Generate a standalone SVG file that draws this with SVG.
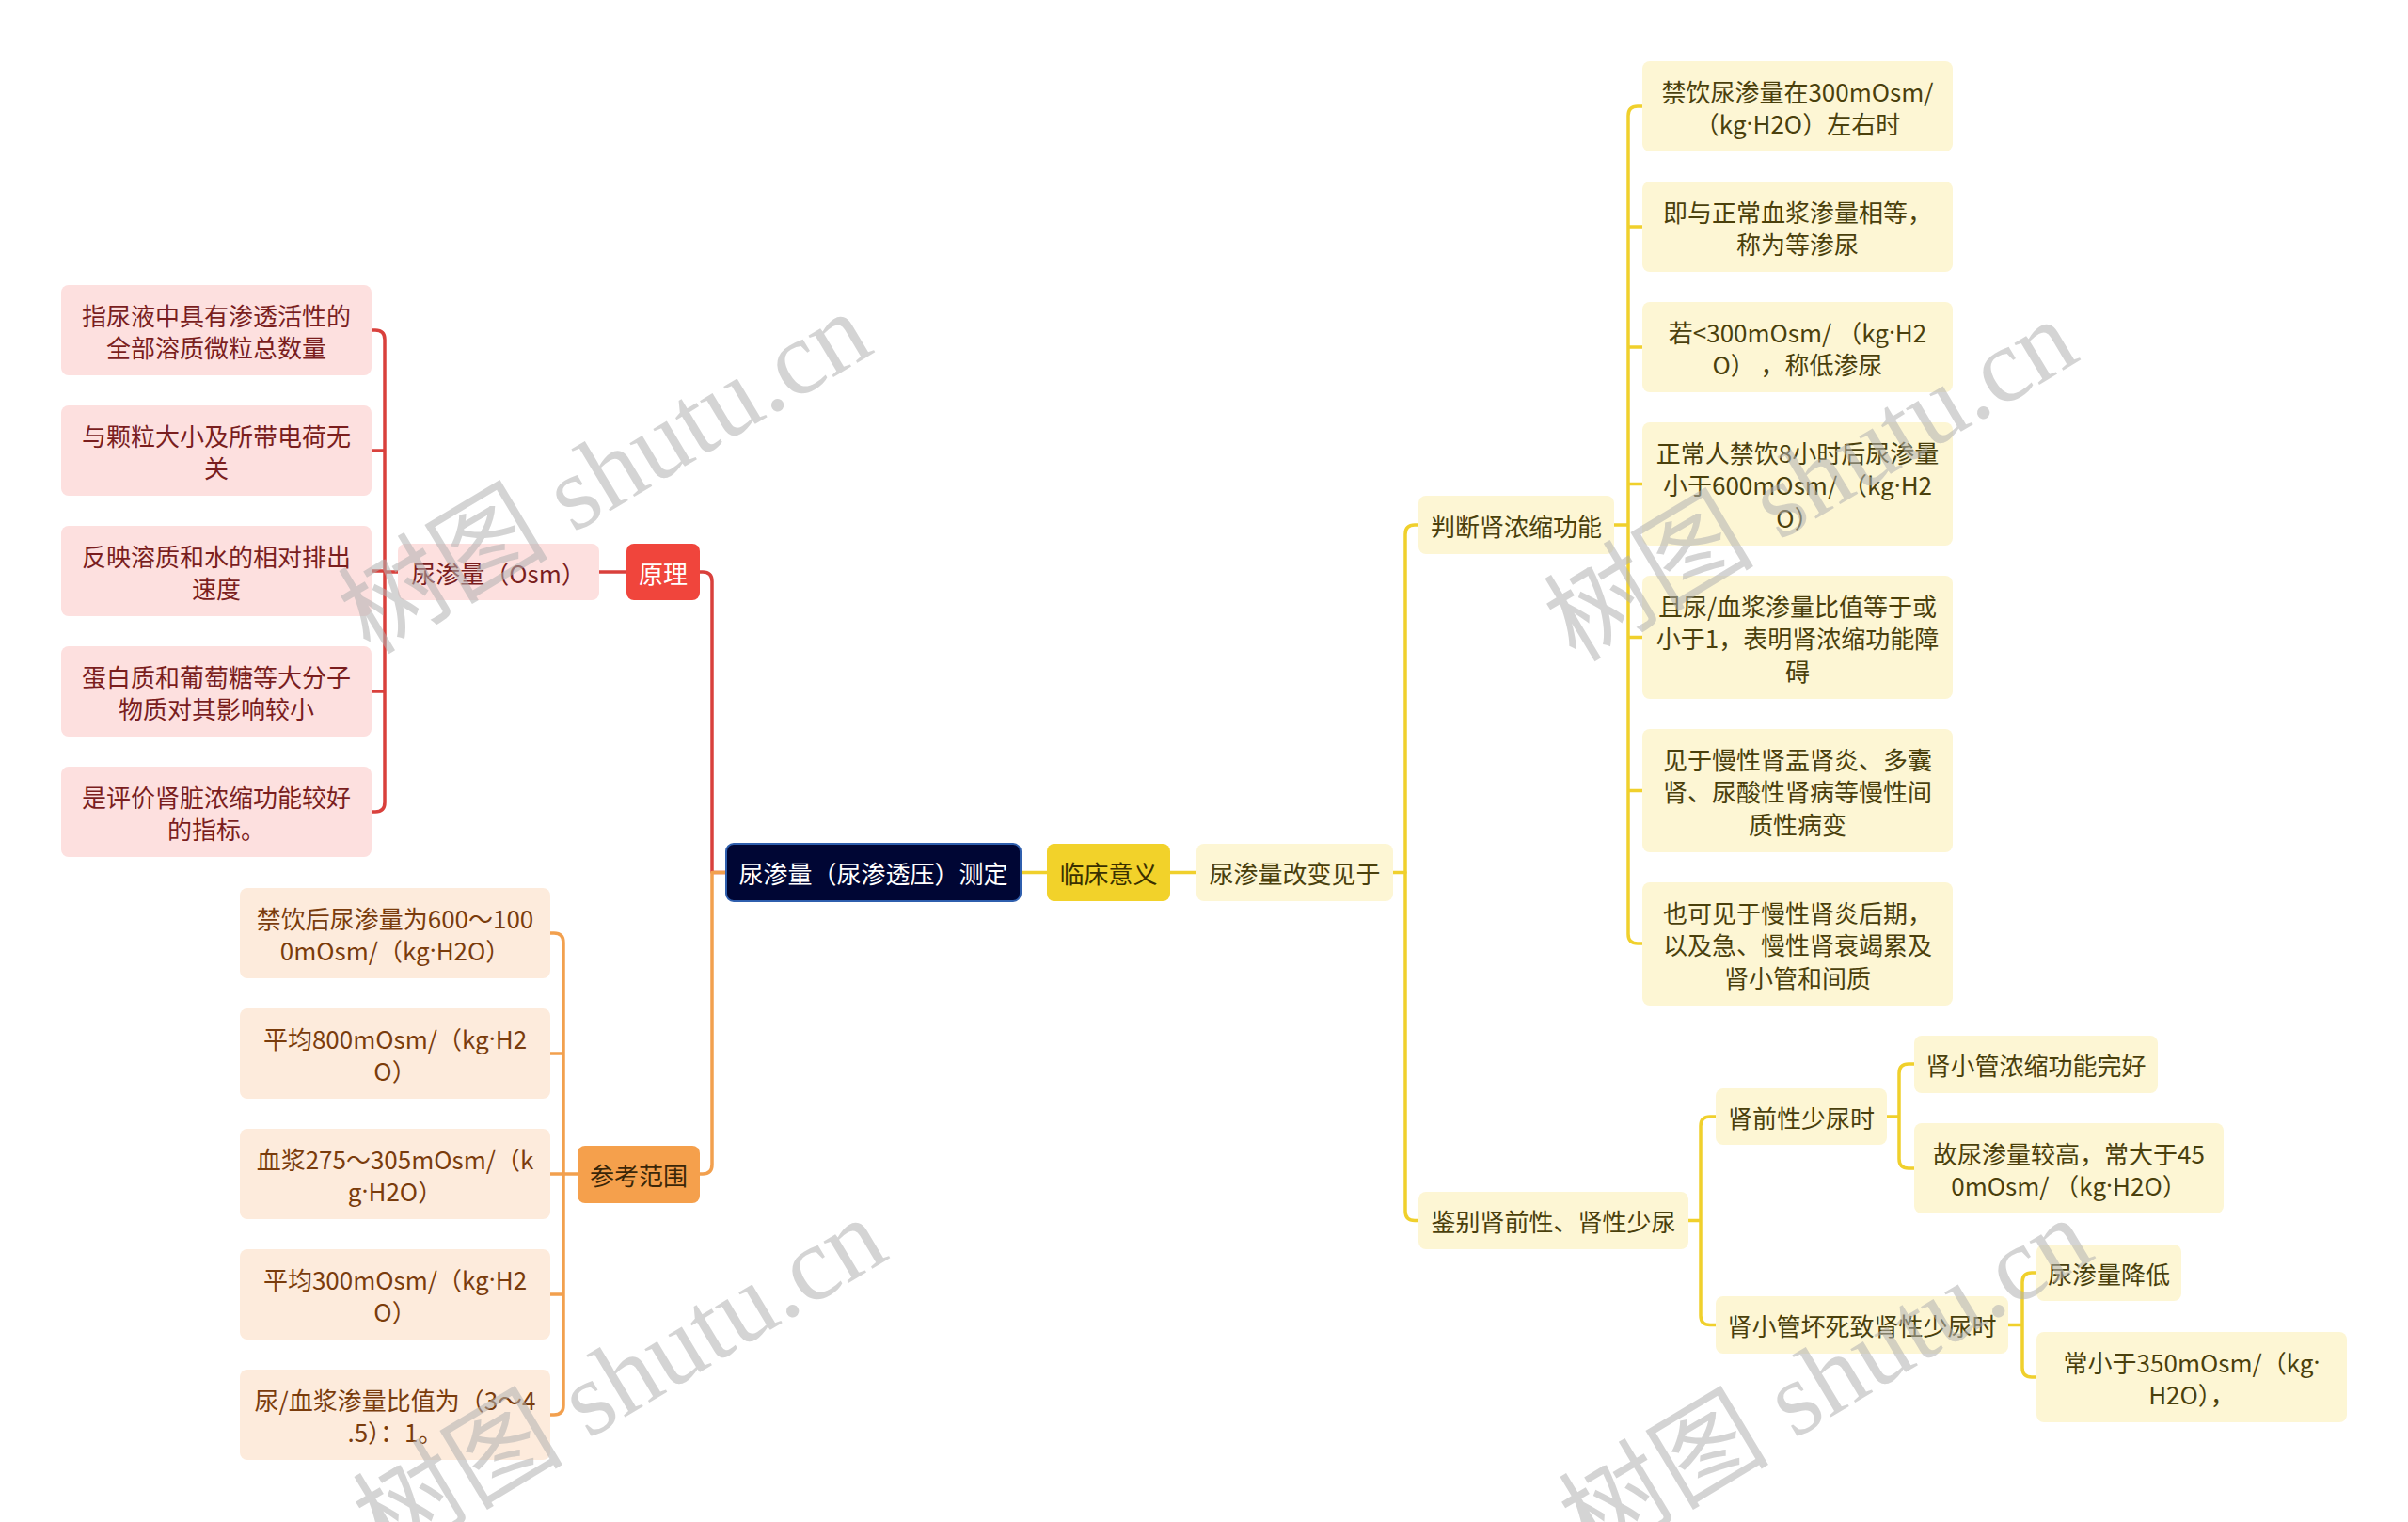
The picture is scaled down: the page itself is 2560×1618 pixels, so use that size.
<svg xmlns="http://www.w3.org/2000/svg" width="2560" height="1618" viewBox="0 0 2560 1618">
<style>
text{font-family:"Noto Sans CJK SC","Noto Sans",sans-serif;font-size:26px;text-anchor:middle;dominant-baseline:central}
.d{font-family:"Noto Sans",sans-serif}
.pk rect{fill:#fde0df}.pk text{fill:#7a1e1e}
.or rect{fill:#fdebdc}.or text{fill:#7a3c0c}
.yl rect{fill:#fdf6d4}.yl text{fill:#4a400c}
.c{fill:none;stroke-width:3.5;stroke-linecap:round;stroke-linejoin:round}
.cr{stroke:#d9403c}.co{stroke:#f2a04e}.cy{stroke:#f0d02c}
.wm{font-family:"Liberation Serif","Noto Sans CJK SC",serif;font-size:112px;fill:#b0b0b0;fill-opacity:0.55;dominant-baseline:auto}
</style>
<rect width="2560" height="1618" fill="#ffffff"/>
<g id="connectors">
<path class="c cr" d="M744 608H747Q757 608 757 618V927.5H772"/>
<path class="c cr" d="M666 608H637"/>
<path class="c cr" d="M423 608H409M395 351H399Q409 351 409 361V853Q409 863 399 863H395M409 479H395M409 607H395M409 735H395"/>
<path class="c co" d="M744 1248H747Q757 1248 757 1238V927.5H772"/>
<path class="c co" d="M614 1248H599M585 992H589Q599 992 599 1002V1494Q599 1504 589 1504H585M599 1120H585M599 1248H585M599 1376H585"/>
<path class="c cy" d="M1085 927.5H1113M1244 927.5H1272M1481 927.5H1494"/>
<path class="c cy" d="M1508 558H1504Q1494 558 1494 568V1287.5Q1494 1297.5 1504 1297.5H1508"/>
<path class="c cy" d="M1716 558H1731M1746 113H1741Q1731 113 1731 123V993Q1731 1003 1741 1003H1746M1731 241H1746M1731 369H1746M1731 514.5H1746M1731 677.5H1746M1731 840.5H1746"/>
<path class="c cy" d="M1795 1297.5H1808M1824 1187H1818Q1808 1187 1808 1197V1398.5Q1808 1408.5 1818 1408.5H1824"/>
<path class="c cy" d="M2006 1187H2019M2035 1131H2029Q2019 1131 2019 1141V1232Q2019 1242 2029 1242H2035"/>
<path class="c cy" d="M2135 1408.5H2150M2165 1353H2160Q2150 1353 2150 1363V1454Q2150 1464 2160 1464H2165"/>
</g>
<g id="root"><rect x="772" y="897" width="313" height="61" rx="8" fill="#000634" stroke="#2f5fae" stroke-width="2"/><text x="928.5" y="927.5" fill="#ffffff">尿渗量（尿渗透压）测定</text></g>
<g id="yuanli"><rect x="666" y="578" width="78" height="60" rx="8" fill="#f0453c"/><text x="705" y="608" fill="#ffffff">原理</text></g>
<g id="osm" class="pk"><rect x="423" y="578" width="214" height="60" rx="8"/><text x="530" y="608">尿渗量（Osm）</text></g>
<g id="p1" class="pk"><rect x="65" y="303" width="330" height="96" rx="8"/><text x="230" y="334">指尿液中具有渗透活性的</text><text x="230" y="368">全部溶质微粒总数量</text></g>
<g id="p2" class="pk"><rect x="65" y="431" width="330" height="96" rx="8"/><text x="230" y="462">与颗粒大小及所带电荷无</text><text x="230" y="496">关</text></g>
<g id="p3" class="pk"><rect x="65" y="559" width="330" height="96" rx="8"/><text x="230" y="590">反映溶质和水的相对排出</text><text x="230" y="624">速度</text></g>
<g id="p4" class="pk"><rect x="65" y="687" width="330" height="96" rx="8"/><text x="230" y="718">蛋白质和葡萄糖等大分子</text><text x="230" y="752">物质对其影响较小</text></g>
<g id="p5" class="pk"><rect x="65" y="815" width="330" height="96" rx="8"/><text x="230" y="846">是评价肾脏浓缩功能较好</text><text x="230" y="880">的指标。</text></g>
<g id="cankao"><rect x="614" y="1218" width="130" height="61" rx="8" fill="#f5a04c"/><text x="679" y="1248.5" fill="#3a2608">参考范围</text></g>
<g id="o1" class="or"><rect x="255" y="944" width="330" height="96" rx="8"/><text x="420" y="975">禁饮后尿渗量为600～100</text><text x="420" y="1009">0mOsm/（kg<tspan class="d">·</tspan>H2O）</text></g>
<g id="o2" class="or"><rect x="255" y="1072" width="330" height="96" rx="8"/><text x="420" y="1103">平均800mOsm/（kg<tspan class="d">·</tspan>H2</text><text x="420" y="1137">O）</text></g>
<g id="o3" class="or"><rect x="255" y="1200" width="330" height="96" rx="8"/><text x="420" y="1231">血浆275～305mOsm/（k</text><text x="420" y="1265">g<tspan class="d">·</tspan>H2O）</text></g>
<g id="o4" class="or"><rect x="255" y="1328" width="330" height="96" rx="8"/><text x="420" y="1359">平均300mOsm/（kg<tspan class="d">·</tspan>H2</text><text x="420" y="1393">O）</text></g>
<g id="o5" class="or"><rect x="255" y="1456" width="330" height="96" rx="8"/><text x="420" y="1487">尿/血浆渗量比值为（3～4</text><text x="420" y="1521">.5）：1。</text></g>
<g id="linchuang"><rect x="1113" y="897" width="131" height="61" rx="8" fill="#f2d22a"/><text x="1178.5" y="927.5" fill="#3a3000">临床意义</text></g>
<g id="gaibian" class="yl"><rect x="1272" y="897" width="209" height="61" rx="8"/><text x="1376.5" y="927.5">尿渗量改变见于</text></g>
<g id="panduan" class="yl"><rect x="1508" y="527" width="208" height="62" rx="8"/><text x="1612" y="558">判断肾浓缩功能</text></g>
<g id="y1" class="yl"><rect x="1746" y="65" width="330" height="96" rx="8"/><text x="1911" y="96">禁饮尿渗量在300mOsm/</text><text x="1911" y="130">（kg<tspan class="d">·</tspan>H2O）左右时</text></g>
<g id="y2" class="yl"><rect x="1746" y="193" width="330" height="96" rx="8"/><text x="1911" y="224">即与正常血浆渗量相等，</text><text x="1911" y="258">称为等渗尿</text></g>
<g id="y3" class="yl"><rect x="1746" y="321" width="330" height="96" rx="8"/><text x="1911" y="352">若&lt;300mOsm/ （kg<tspan class="d">·</tspan>H2</text><text x="1911" y="386">O） ，称低渗尿</text></g>
<g id="y4" class="yl"><rect x="1746" y="449" width="330" height="131" rx="8"/><text x="1911" y="480">正常人禁饮8小时后尿渗量</text><text x="1911" y="514.5">小于600mOsm/ （kg<tspan class="d">·</tspan>H2</text><text x="1911" y="549">O）</text></g>
<g id="y5" class="yl"><rect x="1746" y="612" width="330" height="131" rx="8"/><text x="1911" y="643">且尿/血浆渗量比值等于或</text><text x="1911" y="677.5">小于1，表明肾浓缩功能障</text><text x="1911" y="712">碍</text></g>
<g id="y6" class="yl"><rect x="1746" y="775" width="330" height="131" rx="8"/><text x="1911" y="806">见于慢性肾盂肾炎、多囊</text><text x="1911" y="840.5">肾、尿酸性肾病等慢性间</text><text x="1911" y="875">质性病变</text></g>
<g id="y7" class="yl"><rect x="1746" y="938" width="330" height="131" rx="8"/><text x="1911" y="969">也可见于慢性肾炎后期，</text><text x="1911" y="1003.5">以及急、慢性肾衰竭累及</text><text x="1911" y="1038">肾小管和间质</text></g>
<g id="jianbie" class="yl"><rect x="1508" y="1267" width="287" height="61" rx="8"/><text x="1651.5" y="1297.5">鉴别肾前性、肾性少尿</text></g>
<g id="shenqian" class="yl"><rect x="1824" y="1157" width="182" height="60" rx="8"/><text x="1915" y="1187">肾前性少尿时</text></g>
<g id="wanhao" class="yl"><rect x="2035" y="1101" width="259" height="61" rx="8"/><text x="2164.5" y="1131.5">肾小管浓缩功能完好</text></g>
<g id="jiaogao" class="yl"><rect x="2035" y="1194" width="329" height="96" rx="8"/><text x="2199.5" y="1225">故尿渗量较高，常大于45</text><text x="2199.5" y="1259">0mOsm/ （kg<tspan class="d">·</tspan>H2O）</text></g>
<g id="huaisi" class="yl"><rect x="1824" y="1378" width="311" height="61" rx="8"/><text x="1979.5" y="1408.5">肾小管坏死致肾性少尿时</text></g>
<g id="jiangdi" class="yl"><rect x="2165" y="1323" width="154" height="60" rx="8"/><text x="2242" y="1353">尿渗量降低</text></g>
<g id="xiaoyu" class="yl"><rect x="2165" y="1416" width="330" height="96" rx="8"/><text x="2330" y="1447">常小于350mOsm/（kg<tspan class="d">·</tspan></text><text x="2330" y="1481">H2O），</text></g>
<g id="watermarks">
<text class="wm" x="645" y="540" transform="rotate(-31 645 506)">树图 shutu.cn</text>
<text class="wm" x="1927" y="548" transform="rotate(-31 1927 514)">树图 shutu.cn</text>
<text class="wm" x="661" y="1503" transform="rotate(-31 661 1469)">树图 shutu.cn</text>
<text class="wm" x="1943" y="1503" transform="rotate(-31 1943 1469)">树图 shutu.cn</text>
</g>
</svg>
